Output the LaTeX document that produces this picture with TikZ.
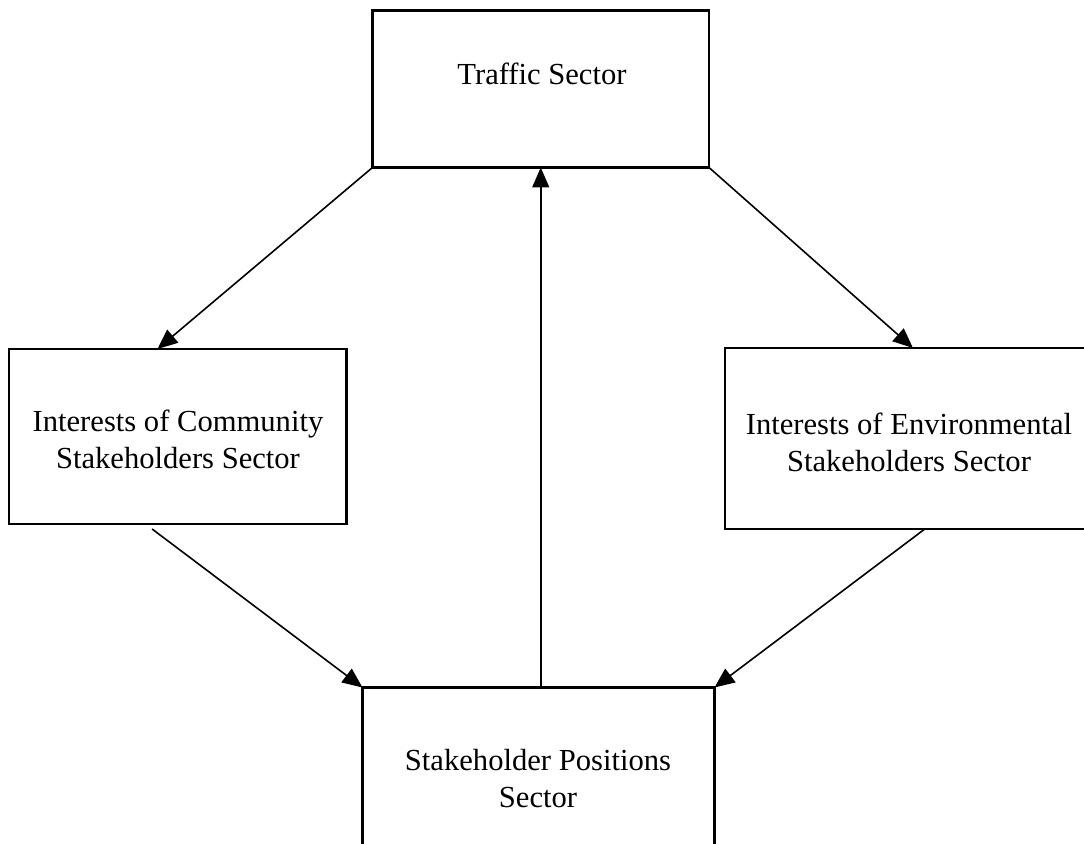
\documentclass[tikz,border=0pt]{standalone}
\usepackage{fontspec}
\setmainfont{Liberation Serif}
\usetikzlibrary{arrows.meta,calc}
\begin{document}
\begin{tikzpicture}[x=0.5pt,y=-0.5pt,
  box/.style={draw,line width=1.1pt,inner sep=0pt,outer sep=0pt,anchor=north west},
  lbl/.style={font=\fontsize{15.3}{18.5}\selectfont,align=center,inner sep=0pt},
  conn/.style={line width=0.8pt,-{Triangle[length=10pt,width=8.5pt]}}]
\useasboundingbox (0,0) rectangle (1084,844);
\clip (0,0) rectangle (1084,844);
% boxes
\node[box,minimum width=168.25pt,minimum height=78.5pt] (traffic) at (372.5,10.5) {};
\node[box,minimum width=168.75pt,minimum height=87.5pt] (left) at (9,349) {};
\node[box,minimum width=185pt,minimum height=90.5pt] (right) at (725,348) {};
\node[box,minimum width=176pt,minimum height=96pt] (bottom) at (362.5,687.5) {};
% labels
\node[lbl] (ttraffic) at (542,74) {Traffic Sector};
\node[lbl] (tleft) at (178,439) {Interests of Community\\Stakeholders Sector};
\node[lbl] (tright) at (909,442) {Interests of Environmental\\Stakeholders Sector};
\node[lbl] (tbottom) at (538,779) {Stakeholder Positions\\Sector};
% connectors
\draw[conn] (traffic.south west) -- ($(left.north west)!0.44!(left.north east)$);
\draw[conn] (traffic.south east) -- ($(right.north west)!0.508!(right.north east)$);
\draw[conn] (traffic.south |- bottom.north) -- (traffic.south);
\draw[conn] ($(left.south west)!0.424!(left.south east)+(0,5)$) -- (bottom.north west);
\draw[conn] ($(right.south west)!0.54!(right.south east)$) -- (bottom.north east);
\end{tikzpicture}
\end{document}
